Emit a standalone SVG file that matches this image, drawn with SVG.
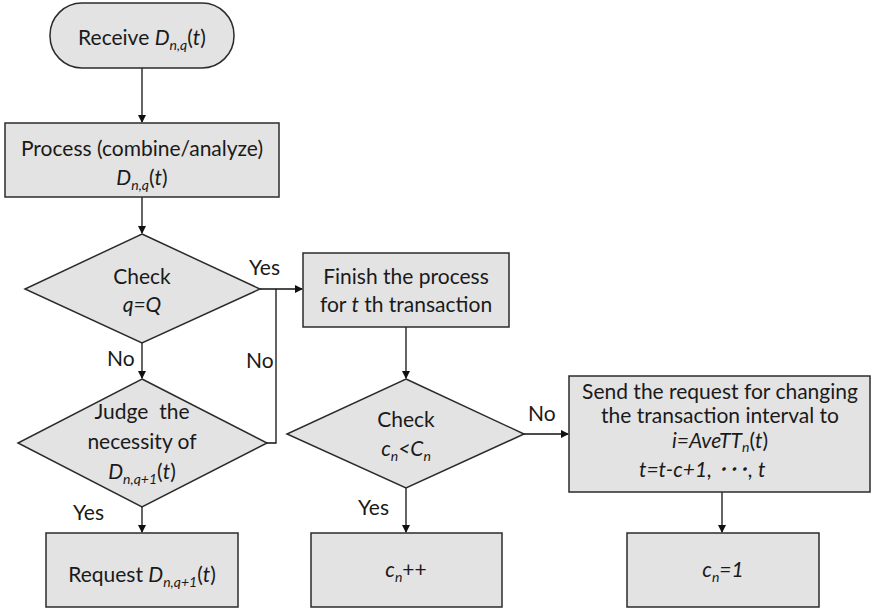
<svg xmlns="http://www.w3.org/2000/svg" width="871" height="610" viewBox="0 0 871 610">
  <style>
    .shape { fill: #e3e3e3; stroke: #2b2b2b; stroke-width: 1.5; }
    .line { fill: none; stroke: #111; stroke-width: 1.3; }
    text { font-family: Lato, "Open Sans", "Noto Sans CJK JP", sans-serif; font-size: 21px; fill: #1a1a1a; text-anchor: middle; }
    .lbl { text-anchor: start; }
    .i { font-style: italic; }
    .sub { font-size: 14px; font-style: italic; }
  </style>
  <defs>
    <marker id="arrow" markerWidth="8" markerHeight="8" refX="7" refY="4" orient="auto" markerUnits="userSpaceOnUse">
      <path d="M0,0 L8,4 L0,8 Z" fill="#111"/>
    </marker>
  </defs>

  <!-- connectors -->
  <g id="connectors">
    <path class="line" d="M142,68 V122" marker-end="url(#arrow)"/>
    <path class="line" d="M142,197 V233" marker-end="url(#arrow)"/>
    <path class="line" d="M142,343 V378" marker-end="url(#arrow)"/>
    <path class="line" d="M142,507 V532" marker-end="url(#arrow)"/>
    <path class="line" d="M260,289 H302" marker-end="url(#arrow)"/>
    <path class="line" d="M267,443 H276 V289"/>
    <path class="line" d="M406,327 V378" marker-end="url(#arrow)"/>
    <path class="line" d="M524,434 H568" marker-end="url(#arrow)"/>
    <path class="line" d="M406,488 V532" marker-end="url(#arrow)"/>
    <path class="line" d="M722,492 V532" marker-end="url(#arrow)"/>
    <text class="lbl" x="249" y="275">Yes</text>
    <text class="lbl" x="246" y="368">No</text>
    <text class="lbl" x="107" y="366">No</text>
    <text class="lbl" x="73" y="520">Yes</text>
    <text class="lbl" x="528" y="421">No</text>
    <text class="lbl" x="358" y="515">Yes</text>
  </g>

  <g id="receive">
    <rect class="shape" x="50" y="3" width="184" height="65" rx="32" ry="32"/>
    <text x="142" y="45">Receive <tspan class="i">D</tspan><tspan class="sub" dy="5">n,q</tspan><tspan dy="-5">(</tspan><tspan class="i">t</tspan>)</text>
  </g>

  <g id="process">
    <rect class="shape" x="5" y="123" width="274" height="74"/>
    <text x="142" y="156">Process (combine/analyze)</text>
    <text x="142" y="185"><tspan class="i">D</tspan><tspan class="sub" dy="5">n,q</tspan><tspan dy="-5">(</tspan><tspan class="i">t</tspan>)</text>
  </g>

  <g id="check-q">
    <polygon class="shape" points="142,234 260,289 142,343 25,289"/>
    <text x="142" y="284">Check</text>
    <text x="142" y="312" class="i">q=Q</text>
  </g>

  <g id="judge">
    <polygon class="shape" points="142,379 267,443 142,507 18,443"/>
    <text x="142" y="419">Judge&#160; the</text>
    <text x="142" y="449">necessity of</text>
    <text x="142" y="479"><tspan class="i">D</tspan><tspan class="sub" dy="5">n,q+1</tspan><tspan dy="-5">(</tspan><tspan class="i">t</tspan>)</text>
  </g>

  <g id="request">
    <rect class="shape" x="46" y="533" width="192" height="74"/>
    <text x="142" y="582">Request <tspan class="i">D</tspan><tspan class="sub" dy="5">n,q+1</tspan><tspan dy="-5">(</tspan><tspan class="i">t</tspan>)</text>
  </g>

  <g id="finish">
    <rect class="shape" x="303" y="253" width="206" height="74"/>
    <text x="406" y="284">Finish the process</text>
    <text x="406" y="312">for <tspan class="i">t</tspan> th transaction</text>
  </g>

  <g id="check-c">
    <polygon class="shape" points="406,379 524,434 406,488 287,434"/>
    <text x="406" y="427">Check</text>
    <text x="406" y="456"><tspan class="i">c</tspan><tspan class="sub" dy="5">n</tspan><tspan class="i" dy="-5">&lt;C</tspan><tspan class="sub" dy="5">n</tspan></text>
  </g>

  <g id="increment">
    <rect class="shape" x="311" y="533" width="191" height="74"/>
    <text x="406" y="577"><tspan class="i">c</tspan><tspan class="sub" dy="5">n</tspan><tspan dy="-5">++</tspan></text>
  </g>

  <g id="send">
    <rect class="shape" x="569" y="376" width="301" height="116"/>
    <text x="720" y="399">Send the request for changing</text>
    <text x="720" y="423">the transaction interval to</text>
    <text x="720" y="448"><tspan class="i">i=AveTT</tspan><tspan class="sub" dy="4">n</tspan><tspan dy="-4">(</tspan><tspan class="i">t</tspan>)</text>
    <text x="639" y="477" class="i lbl">t=t-c+1, ･･･, t</text>
  </g>

  <g id="reset">
    <rect class="shape" x="627" y="533" width="192" height="74"/>
    <text x="723" y="577"><tspan class="i">c</tspan><tspan class="sub" dy="5">n</tspan><tspan class="i" dy="-5">=1</tspan></text>
  </g>
</svg>
